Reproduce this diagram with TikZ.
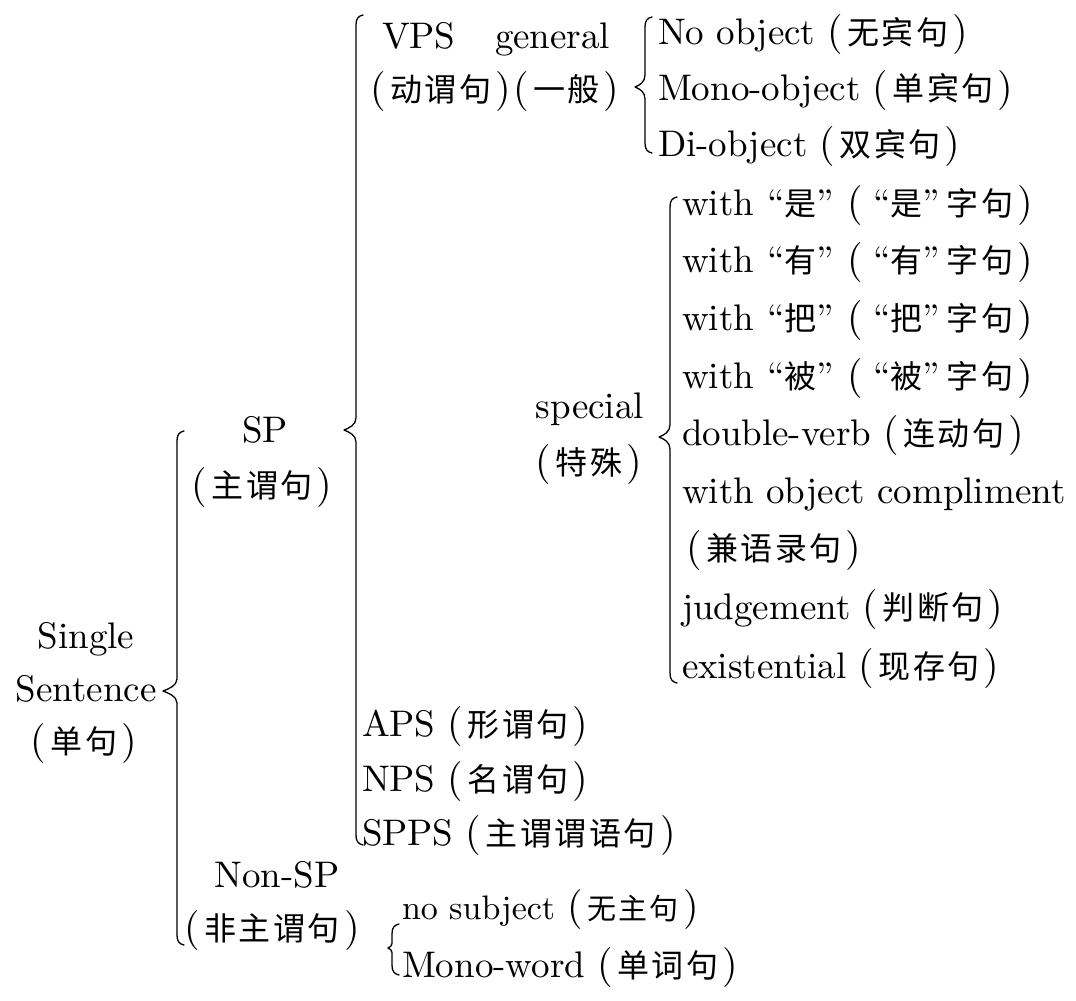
\documentclass[tikz,border=0pt]{standalone}
\usepackage{fontspec}
\setmainfont{lmroman10-regular.otf}
\newfontfamily\cjkfont{Noto Sans CJK SC}[LetterSpace=8]
\newcommand\zh[1]{{\cjkfont\fontsize{32}{36}\selectfont #1}}
\newcommand\zhs[1]{{\cjkfont\fontsize{29}{32}\selectfont #1}}
\newcommand\zlp{\makebox[24pt][c]{\fontsize{40}{40}\selectfont (}}
\newcommand\zrp{\makebox[24pt][c]{\fontsize{40}{40}\selectfont )}}
\newcommand\zqo{\makebox[24pt][r]{“}}
\newcommand\zqc{\makebox[24pt][l]{”}}
\newcommand\mybrace[5]{% line x, top y, tip x, tip y, bottom y
  \draw[brc] (#1+7,#2) .. controls (#1+2,#2+1) and (#1,#2+4) .. (#1,#2+10)
    -- (#1,#4-12) .. controls (#1,#4-5) and (#3+5,#4-2) .. (#3,#4)
    .. controls (#3+5,#4+2) and (#1,#4+5) .. (#1,#4+12)
    -- (#1,#5-10) .. controls (#1,#5-4) and (#1+2,#5-1) .. (#1+7,#5);}
\tikzset{
  t/.style={anchor=base west,inner sep=0pt,outer sep=0pt,font=\fontsize{37}{40}\selectfont},
  tc/.style={anchor=base,inner sep=0pt,outer sep=0pt,font=\fontsize{37}{40}\selectfont},
  ts/.style={anchor=base west,inner sep=0pt,outer sep=0pt,font=\fontsize{34}{37}\selectfont},
  brc/.style={line width=1.3pt,line cap=round,line join=round}
}
\begin{document}
\begin{tikzpicture}[x=1pt,y=-1pt]
\path[use as bounding box,fill=white] (0,0) rectangle (1076,1001);
% level 0
\node[tc] (single) at (86,648) {Single};
\node[tc] (sentence) at (86,701) {Sentence};
\node[tc] (danju) at (84,753) {\zlp\zh{单句}\zrp};
\mybrace{177}{431}{163}{691}{945}
% level 1
\node[tc] (sp) at (265,442) {SP};
\node[tc] (spzh) at (262,497) {\zlp\zh{主谓句}\zrp};
\node[tc] (nonsp) at (277,887) {Non-SP};
\node[tc] (nonspzh) at (272,940) {\zlp\zh{非主谓句}\zrp};
\mybrace{356}{15}{344}{430}{845}
% level 2
\node[t] (vps) at (382,48) {VPS};
\node[t] (gen) at (495,48) {general};
\node[t] (vpszh) at (366,101) {\zlp\zh{动谓句}\zrp\hspace{-6pt}\zlp\zh{一般}\zrp};
\node[tc] (spec) at (590,418) {special};
\node[tc] (speczh) at (589,474) {\zlp\zh{特殊}\zrp};
\node[t] (aps) at (362,736) {APS\hspace{8pt}\zlp\zh{形谓句}\zrp};
\node[t] (nps) at (362,791) {NPS\hspace{8pt}\zlp\zh{名谓句}\zrp};
\node[t] (spps) at (362,845) {SPPS\hspace{8pt}\zlp\zh{主谓谓语句}\zrp};
\node[ts] (nosub) at (402,919) {no subject\hspace{8pt}\zlp\zhs{无主句}\zrp};
\node[t] (monow) at (402,977) {Mono-word\hspace{8pt}\zlp\zh{单词句}\zrp};
\mybrace{392}{924}{388}{948}{975}
% general
\mybrace{645}{17}{635}{87}{153}
\node[t] (noobj) at (658,44) {No object\hspace{8pt}\zlp\zh{无宾句}\zrp};
\node[t] (monoobj) at (658,100) {Mono-object\hspace{8pt}\zlp\zh{单宾句}\zrp};
\node[t] (diobj) at (658,156) {Di-object\hspace{8pt}\zlp\zh{双宾句}\zrp};
% special
\mybrace{670}{197}{659}{437}{683}
\node[t] (shi) at (682,215) {with\hspace{7pt}\zqo\zh{是}\zqc\hspace{2pt}\zlp\zqo\zh{是}\zqc\zh{字句}\zrp};
\node[t] (you) at (682,272) {with\hspace{7pt}\zqo\zh{有}\zqc\hspace{2pt}\zlp\zqo\zh{有}\zqc\zh{字句}\zrp};
\node[t] (ba) at (682,330) {with\hspace{7pt}\zqo\zh{把}\zqc\hspace{2pt}\zlp\zqo\zh{把}\zqc\zh{字句}\zrp};
\node[t] (bei) at (682,388) {with\hspace{7pt}\zqo\zh{被}\zqc\hspace{2pt}\zlp\zqo\zh{被}\zqc\zh{字句}\zrp};
\node[t] (dv) at (682,445) {double-verb\hspace{8pt}\zlp\zh{连动句}\zrp};
\node[t] (woc) at (682,503) {with object compliment};
\node[t] (jianyu) at (682,560) {\zlp\zh{兼语录句}\zrp};
\node[t] (judge) at (682,619) {judgement\hspace{8pt}\zlp\zh{判断句}\zrp};
\node[t] (exist) at (682,678) {existential\hspace{8pt}\zlp\zh{现存句}\zrp};
\end{tikzpicture}
\end{document}
